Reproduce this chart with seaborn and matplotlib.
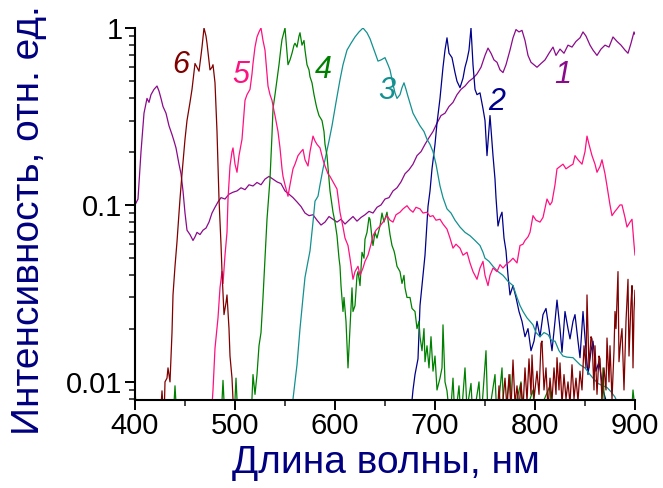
import numpy as np
import pandas as pd
import matplotlib
matplotlib.use("Agg")
import matplotlib.pyplot as plt
import seaborn as sns
from matplotlib.ticker import LogLocator, MultipleLocator, FixedLocator, FixedFormatter, NullFormatter

# ---- spectra (wavelength, nm ; relative intensity) ----
wl_1 = [400, 403, 406, 409, 412, 414, 416, 419, 422, 424, 426, 428, 431, 434, 437, 439, 441, 444, 446, 448,
        450, 452, 455, 458, 460, 462, 465, 468, 471, 474, 477, 480, 483, 486, 490, 494, 498, 502, 506, 510,
        514, 518, 522, 526, 530, 534, 538, 542, 546, 550, 554, 558, 562, 566, 570, 574, 578, 582, 586, 590,
        594, 598, 602, 606, 610, 614, 618, 622, 626, 630, 634, 638, 642, 646, 650, 654, 658, 662, 666, 670,
        674, 678, 682, 686, 690, 694, 698, 702, 706, 710, 714, 718, 722, 726, 730, 734, 738, 742, 746, 750,
        753, 756, 759, 762, 765, 768, 771, 775, 778, 781, 784, 787, 790, 793, 796, 799, 802, 806, 810, 814,
        818, 821, 825, 829, 833, 837, 841, 845, 848, 851, 855, 858, 862, 866, 870, 874, 878, 882, 886, 890,
        893, 896, 899, 900]
int_1 = [0.10, 0.108, 0.20, 0.33, 0.40, 0.38, 0.42, 0.45, 0.47, 0.44, 0.40, 0.36, 0.33, 0.28, 0.25, 0.23, 0.21, 0.17, 0.15, 0.12,
         0.09, 0.072, 0.068, 0.063, 0.066, 0.070, 0.068, 0.072, 0.074, 0.080, 0.090, 0.097, 0.104, 0.110, 0.108, 0.115, 0.118, 0.120, 0.125, 0.122,
         0.130, 0.128, 0.134, 0.130, 0.140, 0.145, 0.140, 0.135, 0.132, 0.120, 0.115, 0.110, 0.104, 0.098, 0.090, 0.087, 0.088, 0.082, 0.077, 0.080,
         0.086, 0.083, 0.080, 0.083, 0.078, 0.082, 0.086, 0.081, 0.085, 0.088, 0.092, 0.090, 0.097, 0.100, 0.108, 0.110, 0.120, 0.125, 0.135, 0.150,
         0.158, 0.170, 0.190, 0.200, 0.220, 0.240, 0.260, 0.290, 0.320, 0.330, 0.360, 0.380, 0.420, 0.450, 0.470, 0.500, 0.520, 0.550, 0.600, 0.700,
         0.77, 0.72, 0.66, 0.64, 0.58, 0.56, 0.62, 0.75, 0.88, 0.98, 0.95, 0.97, 0.85, 0.70, 0.64, 0.62, 0.60, 0.63, 0.66, 0.72,
         0.78, 0.70, 0.76, 0.72, 0.80, 0.78, 0.84, 0.88, 0.95, 0.90, 0.80, 0.75, 0.70, 0.76, 0.80, 0.78, 0.89, 0.84, 0.80, 0.75,
         0.72, 0.82, 0.95, 0.92]

wl_2 = [675, 678, 680, 683, 685, 688, 690, 693, 695, 697, 700, 702, 705, 708, 710, 712, 714, 717, 720, 722,
        725, 728, 730, 732, 734, 736, 738, 740, 742, 745, 748, 750, 752, 755, 758, 760, 761, 763, 765, 767,
        769, 771, 773, 775, 778, 781, 784, 787, 790, 793, 796, 799, 802, 805, 808, 811, 814, 817, 820, 822,
        825, 827, 830, 833, 835, 838, 840, 843, 845, 848, 851, 853, 856, 858, 861, 864, 868, 872, 875]
int_2 = [0.006, 0.009, 0.011, 0.0135, 0.027, 0.040, 0.052, 0.098, 0.12, 0.16, 0.22, 0.29, 0.40, 0.60, 0.75, 0.88, 0.72, 0.68, 0.56, 0.50,
         0.46, 0.52, 0.60, 0.66, 0.75, 1.0, 0.62, 0.45, 0.42, 0.43, 0.35, 0.30, 0.19, 0.32, 0.19, 0.14, 0.11, 0.076, 0.085, 0.091,
         0.065, 0.055, 0.040, 0.031, 0.035, 0.030, 0.025, 0.022, 0.018, 0.020, 0.015, 0.017, 0.022, 0.018, 0.024, 0.026, 0.020, 0.015, 0.022, 0.029,
         0.020, 0.0147, 0.025, 0.020, 0.0175, 0.022, 0.024, 0.017, 0.0137, 0.025, 0.015, 0.011, 0.015, 0.017, 0.0115, 0.013, 0.009, 0.0075, 0.006]

wl_3 = [556, 558, 562, 565, 568, 570, 573, 575, 578, 580, 583, 585, 588, 590, 594, 597, 601, 605, 608, 612,
        616, 620, 624, 628, 632, 635, 638, 641, 643, 646, 650, 653, 655, 658, 660, 662, 665, 667, 669, 671,
        673, 676, 678, 682, 685, 689, 692, 695, 698, 701, 705, 708, 712, 716, 720, 725, 730, 735, 740, 745,
        748, 750, 754, 758, 763, 768, 773, 778, 782, 785, 788, 792, 795, 798, 801, 805, 809, 813, 817, 820,
        824, 828, 832, 838, 842, 845, 850, 855, 858, 863, 868, 872, 876, 880, 883, 886]
int_3 = [0.006, 0.008, 0.0125, 0.020, 0.030, 0.039, 0.048, 0.055, 0.080, 0.105, 0.112, 0.13, 0.16, 0.18, 0.23, 0.28, 0.38, 0.51, 0.62, 0.75,
         0.82, 0.89, 0.95, 1.0, 0.94, 0.87, 0.78, 0.70, 0.65, 0.66, 0.68, 0.62, 0.58, 0.48, 0.43, 0.40, 0.42, 0.46, 0.49, 0.45,
         0.41, 0.36, 0.33, 0.30, 0.28, 0.26, 0.235, 0.22, 0.20, 0.17, 0.128, 0.11, 0.095, 0.090, 0.082, 0.075, 0.070, 0.067, 0.063, 0.059,
         0.054, 0.050, 0.048, 0.045, 0.042, 0.040, 0.037, 0.035, 0.030, 0.027, 0.025, 0.023, 0.022, 0.021, 0.019, 0.018, 0.019, 0.0185, 0.017, 0.017,
         0.015, 0.014, 0.0138, 0.0137, 0.013, 0.0125, 0.012, 0.011, 0.0105, 0.0098, 0.0095, 0.0093, 0.0088, 0.0082, 0.0075, 0.006]

wl_4 = [400, 402, 438, 440, 442, 486, 488, 490, 499, 501, 503, 516, 518, 520, 522, 524, 526, 528, 530, 532,
        535, 537, 538, 540, 542, 544, 546, 547, 549, 550, 551, 553, 555, 557, 559, 560, 562, 564, 565, 567,
        569, 570, 572, 574, 575, 577, 579, 581, 582, 584, 587, 589, 590, 592, 594, 595, 597, 598, 600, 602,
        604, 605, 606, 608, 609, 611, 613, 615, 617, 618, 620, 622, 623, 625, 627, 629, 630, 632, 634, 635,
        637, 638, 640, 642, 645, 647, 649, 652, 654, 655, 657, 659, 660, 662, 665, 667, 669, 670, 672, 675,
        677, 680, 682, 684, 685, 687, 689, 690, 692, 694, 696, 698, 700, 702, 705, 707, 708, 710, 712, 715,
        718, 720, 724, 726, 730, 732, 736, 738, 744, 746, 751, 753, 760, 762, 767, 769, 775, 777, 786, 788,
        798, 800, 815, 817, 866, 868, 870, 896, 898, 900]
int_4 = [0.009, 0.006, 0.006, 0.0095, 0.006, 0.006, 0.0102, 0.006, 0.006, 0.0105, 0.006, 0.006, 0.011, 0.0085, 0.011, 0.016, 0.019, 0.030, 0.050, 0.083,
         0.14, 0.25, 0.35, 0.42, 0.51, 0.62, 0.78, 0.86, 0.95, 1.0, 0.85, 0.62, 0.66, 0.72, 0.80, 0.82, 0.78, 0.90, 0.94, 0.80,
         0.85, 0.75, 0.62, 0.58, 0.53, 0.49, 0.42, 0.37, 0.35, 0.32, 0.30, 0.26, 0.22, 0.19, 0.14, 0.12, 0.10, 0.091, 0.080, 0.067,
         0.050, 0.045, 0.035, 0.025, 0.030, 0.022, 0.012, 0.020, 0.034, 0.025, 0.027, 0.040, 0.042, 0.035, 0.054, 0.050, 0.064, 0.070, 0.085, 0.083,
         0.065, 0.059, 0.070, 0.065, 0.076, 0.090, 0.080, 0.091, 0.075, 0.068, 0.059, 0.055, 0.052, 0.045, 0.042, 0.036, 0.040, 0.034, 0.030, 0.030,
         0.026, 0.025, 0.020, 0.022, 0.018, 0.015, 0.020, 0.013, 0.016, 0.012, 0.018, 0.0115, 0.014, 0.009, 0.0105, 0.012, 0.021, 0.010, 0.0089, 0.006,
         0.0105, 0.006, 0.0095, 0.006, 0.012, 0.007, 0.0098, 0.006, 0.010, 0.006, 0.015, 0.006, 0.011, 0.006, 0.012, 0.006, 0.011, 0.006, 0.010, 0.006,
         0.009, 0.006, 0.0095, 0.006, 0.006, 0.012, 0.006, 0.006, 0.009, 0.007]

wl_5 = [476, 478, 480, 482, 483, 485, 487, 488, 490, 492, 493, 495, 497, 498, 500, 502, 504, 507, 509, 510,
        512, 515, 517, 518, 520, 522, 524, 526, 528, 530, 532, 533, 535, 537, 539, 540, 543, 545, 547, 548,
        550, 553, 555, 558, 560, 563, 566, 568, 570, 573, 575, 578, 580, 582, 585, 588, 590, 593, 595, 598,
        602, 605, 608, 610, 613, 615, 618, 620, 623, 625, 628, 630, 633, 636, 638, 641, 645, 648, 652, 655,
        658, 661, 665, 668, 672, 675, 678, 681, 685, 688, 692, 695, 698, 701, 705, 708, 712, 715, 718, 721,
        725, 728, 732, 735, 738, 742, 745, 748, 750, 753, 755, 758, 762, 765, 768, 771, 775, 778, 782, 785,
        788, 790, 793, 795, 798, 801, 805, 808, 812, 815, 817, 820, 822, 825, 828, 831, 835, 838, 840, 843,
        847, 850, 852, 854, 857, 860, 862, 865, 867, 870, 872, 875, 877, 880, 882, 885, 887, 890, 892, 895,
        897, 899, 900]
int_5 = [0.006, 0.009, 0.0155, 0.020, 0.023, 0.034, 0.042, 0.036, 0.052, 0.070, 0.108, 0.166, 0.20, 0.21, 0.17, 0.153, 0.19, 0.235, 0.33, 0.39,
         0.42, 0.45, 0.55, 0.63, 0.78, 0.89, 0.95, 1.0, 0.85, 0.75, 0.55, 0.47, 0.42, 0.39, 0.34, 0.32, 0.26, 0.21, 0.16, 0.145,
         0.13, 0.112, 0.13, 0.16, 0.17, 0.19, 0.20, 0.206, 0.18, 0.166, 0.20, 0.245, 0.23, 0.22, 0.21, 0.18, 0.166, 0.15, 0.145, 0.135,
         0.123, 0.091, 0.075, 0.065, 0.059, 0.050, 0.038, 0.042, 0.045, 0.040, 0.044, 0.048, 0.052, 0.060, 0.067, 0.072, 0.076, 0.080, 0.087, 0.082,
         0.080, 0.088, 0.091, 0.095, 0.099, 0.094, 0.091, 0.097, 0.095, 0.090, 0.091, 0.086, 0.087, 0.082, 0.083, 0.078, 0.073, 0.065, 0.057, 0.060,
         0.057, 0.052, 0.054, 0.047, 0.042, 0.038, 0.044, 0.048, 0.040, 0.035, 0.040, 0.044, 0.042, 0.046, 0.044, 0.046, 0.048, 0.050, 0.047, 0.059,
         0.060, 0.063, 0.066, 0.070, 0.087, 0.082, 0.080, 0.085, 0.108, 0.100, 0.104, 0.130, 0.160, 0.165, 0.170, 0.160, 0.166, 0.170, 0.190, 0.180,
         0.170, 0.200, 0.245, 0.220, 0.190, 0.170, 0.153, 0.165, 0.180, 0.150, 0.128, 0.100, 0.087, 0.092, 0.095, 0.100, 0.100, 0.085, 0.075, 0.080,
         0.083, 0.060, 0.052]

wl_6 = [425, 427, 429, 430, 432, 433, 435, 437, 438, 440, 442, 444, 445, 447, 450, 452, 455, 457, 460, 462,
        464, 466, 467, 469, 471, 472, 474, 475, 477, 478, 480, 482, 484, 486, 487, 489, 491, 492, 494, 495,
        497, 499,
        762, 764, 766, 770, 772, 774, 776, 778, 780, 782, 784, 786, 788, 790, 792, 794, 796, 797, 799, 802,
        804, 806, 807, 809, 811, 813, 815, 817, 819, 821, 822, 824, 825, 827, 829, 831, 833, 835, 837, 839,
        841, 843, 845, 847, 849, 851, 852, 854, 856, 857, 859, 860, 862, 864, 865, 867, 869, 871, 872, 874,
        875, 877, 879, 880, 881, 883, 884, 886, 887, 889, 891, 893, 894, 896, 897, 898, 899, 900]
int_6 = [0.006, 0.0089, 0.006, 0.010, 0.0105, 0.012, 0.010, 0.019, 0.031, 0.045, 0.062, 0.090, 0.108, 0.15, 0.235, 0.30, 0.38, 0.45, 0.63, 0.60,
         0.57, 0.70, 0.78, 1.0, 0.90, 0.82, 0.65, 0.58, 0.60, 0.62, 0.49, 0.26, 0.108, 0.060, 0.042, 0.024, 0.028, 0.031, 0.020, 0.014,
         0.0105, 0.006,
         0.006, 0.0095, 0.006, 0.0105, 0.007, 0.011, 0.007, 0.0133, 0.0075, 0.0095, 0.007, 0.0098, 0.007, 0.012, 0.0078, 0.0135, 0.0085, 0.0142, 0.008, 0.0115,
         0.0085, 0.0165, 0.017, 0.009, 0.012, 0.007, 0.0105, 0.0078, 0.012, 0.0085, 0.0137, 0.009, 0.0128, 0.0075, 0.011, 0.008, 0.010, 0.0075, 0.0125, 0.008,
         0.0105, 0.0078, 0.0115, 0.009, 0.016, 0.012, 0.031, 0.012, 0.018, 0.0175, 0.009, 0.016, 0.0085, 0.014, 0.0135, 0.008, 0.012, 0.009, 0.0177, 0.010,
         0.016, 0.008, 0.015, 0.025, 0.020, 0.042, 0.013, 0.018, 0.020, 0.009, 0.022, 0.038, 0.014, 0.028, 0.035, 0.012, 0.025, 0.033]

series = [
    ("1", wl_1, int_1, "#8B0A8B"),
    ("2", wl_2, int_2, "#00008B"),
    ("3", wl_3, int_3, "#139090"),
    ("4", wl_4, int_4, "#008000"),
    ("5", wl_5, int_5, "#FF1080"),
    ("6", wl_6, int_6, "#800000"),
]

# curve number labels: (text, x, y)
label_text = ["6", "5", "4", "3", "2", "1"]
label_x = [446, 506, 588, 652, 762, 828]
label_y = [0.62, 0.545, 0.58, 0.44, 0.38, 0.545]

xticks = [400, 500, 600, 700, 800, 900]
yticks = [0.01, 0.1, 1]
ytick_labels = ["0.01", "0.1", "1"]

sns.set_theme(style="ticks")
plt.rcParams["font.family"] = ["Liberation Sans", "DejaVu Sans"]

fig = plt.figure(figsize=(6.63, 4.88), dpi=100)
ax = fig.add_axes([135 / 663, 88 / 488, 500 / 663, 372 / 488])

colors = {}
for name, wl, inten, col in series:
    df = pd.DataFrame({"wl": wl, "I": inten})
    sns.lineplot(data=df, x="wl", y="I", ax=ax, color=col, lw=0.9,
                 estimator=None, sort=False)
    colors[name] = col

ax.set_yscale("log")
ax.set_xlim(400, 900)
ax.set_ylim(0.0079, 1.0)

ax.xaxis.set_major_locator(FixedLocator(xticks))
ax.xaxis.set_minor_locator(MultipleLocator(50))
ax.yaxis.set_major_locator(FixedLocator(yticks))
ax.yaxis.set_major_formatter(FixedFormatter(ytick_labels))
ax.yaxis.set_minor_locator(LogLocator(base=10, subs=np.arange(2, 10)))
ax.yaxis.set_minor_formatter(NullFormatter())

ax.tick_params(which="major", direction="out", length=7, width=1.4, labelsize=21, colors="black")
ax.tick_params(which="minor", direction="out", length=4, width=1.2)
ax.tick_params(axis="x", pad=2)
ax.tick_params(axis="y", pad=2)

for s in ["left", "bottom"]:
    ax.spines[s].set_linewidth(1.5)
    ax.spines[s].set_color("black")
for s in ["top", "right"]:
    ax.spines[s].set_visible(False)

ax.set_xlabel("")
ax.set_ylabel("")
fig.text(386 / 663, 1 - 463 / 488, "Длина волны, нм", color="#000080",
         fontsize=28, ha="center", va="center")
fig.text(29 / 663, 1 - 220 / 488, "Интенсивность, отн. ед.", color="#000080",
         fontsize=28, ha="center", va="center", rotation=90)

for t, x, y in zip(label_text, label_x, label_y):
    ax.text(x, y, t, color=colors[t], fontsize=22, fontstyle="italic",
            ha="center", va="center")

fig.savefig("out.png", dpi=100)
